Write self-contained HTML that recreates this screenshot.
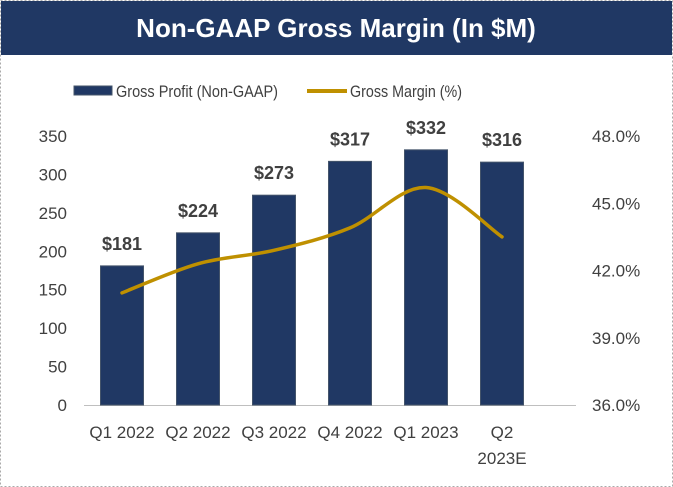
<!DOCTYPE html>
<html><head><meta charset="utf-8"><style>
body{margin:0;background:#fff;}
#c{position:relative;width:673px;height:487px;overflow:hidden;font-family:"Liberation Sans",sans-serif;}
</style></head><body>
<div id="c">
<svg width="673" height="487">
<rect x="0.5" y="0.5" width="672" height="486" fill="#fff" stroke="#aaa" stroke-dasharray="2,2"/>
<rect x="1" y="1" width="671" height="54" fill="#203864"/>
<text x="336" y="37" text-anchor="middle" fill="#fff" font-size="26" font-weight="bold">Non-GAAP Gross Margin (In $M)</text>
<g>
<rect x="74" y="86" width="38" height="9" fill="#203864" stroke="#44546a"/>
<text x="116" y="97" font-size="17" fill="#404040" textLength="162" lengthAdjust="spacingAndGlyphs">Gross Profit (Non-GAAP)</text>
<line x1="307" y1="91" x2="347" y2="91" stroke="#bf9000" stroke-width="4"/>
<text x="350" y="97" font-size="17" fill="#404040" textLength="112" lengthAdjust="spacingAndGlyphs">Gross Margin (%)</text>
</g>
<g id="plot"></g>
</svg>
</div>
<script>
const categories=["Q1 2022","Q2 2022","Q3 2022","Q4 2022","Q1 2023","Q2 2023E"];
const profit=[181,224,273,317,332,316];
const margin=[41.0,42.3,42.9,43.9,45.7,43.5];
const leftTicks=[0,50,100,150,200,250,300,350];
const rightTicks=[36,39,42,45,48];
const plotL=84,plotR=540,y0=405,yTop=136;
const yL=v=>y0-(v/350)*(y0-yTop);
const yR=v=>y0-((v-36)/12)*(y0-yTop);
const band=(plotR-plotL)/categories.length;
const xC=i=>plotL+band*(i+0.5);
const g=document.getElementById('plot');
const NS='http://www.w3.org/2000/svg';
function mk(t,a){const e=document.createElementNS(NS,t);for(const k in a)e.setAttribute(k,a[k]);g.appendChild(e);return e;}
leftTicks.forEach(v=>{const t=mk('text',{x:67,y:yL(v)+6,'text-anchor':'end','font-size':17,fill:'#404040'});t.textContent=v;

});
rightTicks.forEach(v=>{const t=mk('text',{x:592,y:yR(v)+6,'font-size':17,fill:'#404040'});t.textContent=v.toFixed(1)+'%';

});
const ax=mk('line',{x1:plotL,y1:y0+0.5,x2:plotR+36,y2:y0+0.5,stroke:'#bfbfbf'});


const bw=43;
profit.forEach((v,i)=>{
const r=mk('rect',{x:xC(i)-bw/2,y:yL(v),width:bw,height:y0-yL(v),fill:'#203864',stroke:'#44546a'});


const t=mk('text',{x:xC(i),y:yL(v)-16,'text-anchor':'middle','font-size':18,'font-weight':'bold',fill:'#404040'});t.textContent='$'+v;


const parts=categories[i]==='Q2 2023E'?['Q2','2023E']:[categories[i]];
parts.forEach((p,j)=>{const l=mk('text',{x:xC(i),y:438+j*26,'text-anchor':'middle','font-size':17,fill:'#404040'});l.textContent=p;

});
});
const pts=margin.map((m,i)=>[xC(i),yR(m)]);
let d='M'+pts[0][0]+','+pts[0][1];
for(let i=0;i<pts.length-1;i++){const p0=pts[Math.max(0,i-1)],p1=pts[i],p2=pts[i+1],p3=pts[Math.min(pts.length-1,i+2)];
const c1=[p1[0]+(p2[0]-p0[0])/6,p1[1]+(p2[1]-p0[1])/6],c2=[p2[0]-(p3[0]-p1[0])/6,p2[1]-(p3[1]-p1[1])/6];
d+=' C'+c1+' '+c2+' '+p2;}
const ln=mk('path',{d:d,fill:'none',stroke:'#bf9000','stroke-width':3.5,'stroke-linecap':'round'});


</script>
</body></html>
